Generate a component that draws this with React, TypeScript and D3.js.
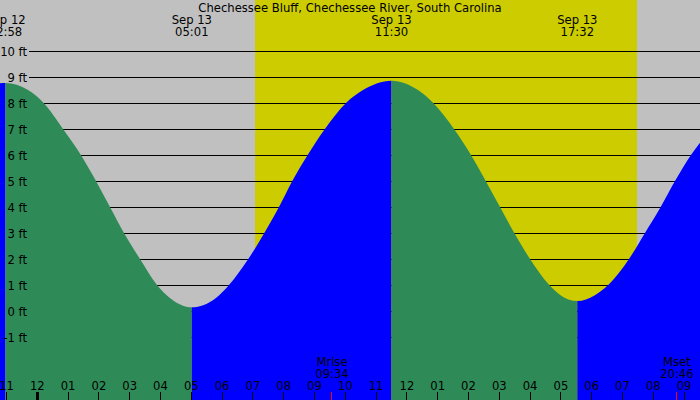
import * as React from "react";
import * as d3 from "d3";

// hours are counted from Sep 13 00:00 local time
const tideHours = [
  -1.25, -1.033, -0.302, 0.208, 0.834, 1.416, 1.906, 2.36, 2.815, 3.334, 3.886, 4.305, 5.017,
  5.8, 6.224, 6.851, 7.37, 7.847, 8.279, 8.779, 9.338, 10.023, 10.575, 11.5,
  12.36, 12.857, 13.529, 14.081, 14.558, 15.023, 15.487, 15.997, 16.623, 16.999, 17.533,
  18.09, 18.539, 19.211, 19.73, 20.24, 20.705, 21.224, 21.6,
];
const tideFeet = [
  8.76, 8.77, 8.5, 8, 7, 6, 5, 4, 3, 2, 1, 0.5, 0.14,
  0.5, 1, 2, 3, 4, 5, 6, 7, 8, 8.5, 8.86,
  8.5, 8, 7, 6, 5, 4, 3, 2, 1, 0.6, 0.38,
  0.6, 1, 2, 3, 4, 5, 6, 6.6,
];

const tideEventHours = [-1.033, 5.017, 11.5, 17.533];
const tideEventKind = ["high", "low", "high", "low"];
const tideEventDate = ["Sep 12", "Sep 13", "Sep 13", "Sep 13"];
const tideEventTime = ["22:58", "05:01", "11:30", "17:32"];

const sunriseHour = 7.068;
const sunsetHour = 19.47;

const moonHours = [9.567, 20.767];
const moonNames = ["Mrise", "Mset"];
const moonTimes = ["09:34", "20:46"];

const hourTicks = d3.range(-1, 22);
const hourLabels = [
  "11", "12", "01", "02", "03", "04", "05", "06", "07", "08", "09", "10",
  "11", "12", "01", "02", "03", "04", "05", "06", "07", "08", "09",
];
const feetTicks = d3.range(-1, 11);

const title = "Chechessee Bluff, Chechessee River, South Carolina";

const W = 700;
const H = 400;
const FONT = "'DejaVu Sans', sans-serif";
const FS = 11.6;

const GRAY = "#c0c0c0";
const YELLOW = "#cccc00";
const GREEN = "#2e8b57";
const BLUE = "#0000ff";

export default function App() {
  const x = d3.scaleLinear().domain([0, 24]).range([37.3, 37.3 + 30.8 * 24]);
  const y = d3.scaleLinear().domain([0, 10]).range([311, 51]);

  const points = tideHours.map((h, i) => [h, tideFeet[i]] as [number, number]);
  const area = d3.area<[number, number]>()
    .x(d => x(d[0]))
    .y0(H)
    .y1(d => y(d[1]))
    .curve(d3.curveMonotoneX);
  const areaPath = area(points) || "";

  // rising water is blue, falling is green; split at each high / low
  const bounds = [-10, ...tideEventHours.map(h => x(h)), W + 10];
  const lastKind = tideEventKind[tideEventKind.length - 1];
  const segColor = (i: number) => {
    const kind = i < tideEventKind.length ? tideEventKind[i] : (lastKind === "high" ? "low" : "high");
    return kind === "high" ? BLUE : GREEN;
  };

  return (
    <svg width={W} height={H} style={{ position: "absolute", left: 0, top: 0, display: "block" }}
      fontFamily={FONT} fontSize={FS}>
      <defs>
        {bounds.slice(0, -1).map((b, i) => (
          <clipPath key={i} id={"seg" + i}>
            <rect x={b} y={0} width={bounds[i + 1] - b} height={H} />
          </clipPath>
        ))}
      </defs>

      <rect x={0} y={0} width={W} height={H} fill={GRAY} />
      <rect x={x(sunriseHour)} y={0} width={x(sunsetHour) - x(sunriseHour)} height={H} fill={YELLOW} />

      {feetTicks.map(v => (
        <line key={v} x1={29} x2={W} y1={y(v) + 0.5} y2={y(v) + 0.5}
          stroke="#000" strokeWidth={1} shapeRendering="crispEdges" />
      ))}

      {bounds.slice(0, -1).map((b, i) => (
        <path key={i} d={areaPath} fill={segColor(i)} clipPath={`url(#seg${i})`} />
      ))}

      {feetTicks.map(v => (
        <text key={v} x={27} y={y(v) + 4.5} textAnchor="end" fill="#000">{`${v} ft`}</text>
      ))}

      <text x={W / 2} y={12} textAnchor="middle" fill="#000">{title}</text>

      {tideEventHours.map((h, i) => (
        <g key={i} textAnchor="middle" fill="#000">
          <text x={x(h)} y={24}>{tideEventDate[i]}</text>
          <text x={x(h)} y={36}>{tideEventTime[i]}</text>
        </g>
      ))}

      {moonHours.map((h, i) => (
        <g key={i} textAnchor="middle" fill="#000">
          <text x={x(h)} y={366}>{moonNames[i]}</text>
          <text x={x(h)} y={378}>{moonTimes[i]}</text>
          <line x1={x(h)} x2={x(h)} y1={392} y2={H} stroke="#ff0000" strokeWidth={1}
            shapeRendering="crispEdges" />
        </g>
      ))}

      {hourTicks.map((h, i) => (
        <g key={h}>
          <text x={x(h)} y={390} textAnchor="middle" fill="#000">{hourLabels[i]}</text>
          <line x1={x(h)} x2={x(h)} y1={392} y2={H} stroke="#000"
            strokeWidth={h % 24 === 0 ? 3 : 1} shapeRendering="crispEdges" />
        </g>
      ))}
    </svg>
  );
}
